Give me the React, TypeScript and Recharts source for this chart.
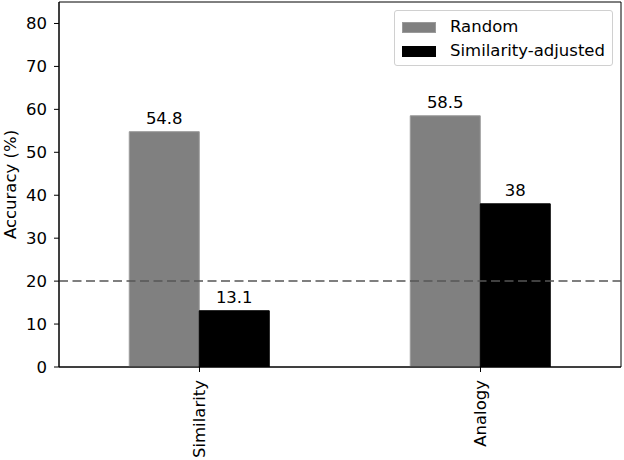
import { Bar, BarChart, LabelList, ReferenceArea, ReferenceLine, XAxis, YAxis } from 'recharts'

const categories = ['Similarity', 'Analogy']
const randomValues = [54.8, 58.5]
const adjustedValues = [13.1, 38]
const yTicks = [0, 10, 20, 30, 40, 50, 60, 70, 80]
const chanceLevel = 20

const data = categories.map((name, i) => ({
  name,
  random: randomValues[i],
  adjusted: adjustedValues[i],
}))

const font = '"DejaVu Sans", sans-serif'
const fs = 16.5

function RotatedTick(props: any) {
  const { x, y, payload } = props
  return (
    <text
      x={x}
      y={y}
      transform={`rotate(-90, ${x}, ${y})`}
      textAnchor="end"
      dy="0.35em"
      fontSize={fs}
      fontFamily={font}
      fill="#000"
    >
      {payload.value}
    </text>
  )
}

// legend drawn as an overlay so it takes no room from the plot
function LegendBox() {
  const items = [
    { label: 'Random', color: '#808080', stroke: '#9a9a9a' },
    { label: 'Similarity-adjusted', color: '#000', stroke: '#000' },
  ]
  return (
    <div
      style={{
        position: 'absolute',
        left: 394,
        top: 10,
        width: 219,
        height: 56,
        border: '1px solid #d0d0d0',
        borderRadius: 3,
        background: '#fff',
        boxSizing: 'border-box',
        padding: '4px 0 0 7px',
        fontFamily: font,
        fontSize: fs,
        color: '#000',
      }}
    >
      {items.map((it) => (
        <div key={it.label} style={{ display: 'flex', alignItems: 'center', height: 24, lineHeight: '24px' }}>
          <span
            style={{
              display: 'inline-block',
              width: 34,
              height: 11,
              background: it.color,
              border: `1px solid ${it.stroke}`,
              boxSizing: 'border-box',
              marginRight: 14,
            }}
          />
          <span>{it.label}</span>
        </div>
      ))}
    </div>
  )
}

export default function App() {
  return (
    <div style={{ position: 'absolute', left: 0, top: 0, width: 624, height: 460, background: '#fff' }}>
      <BarChart
        width={624}
        height={460}
        data={data}
        margin={{ top: 2, right: 3, bottom: 0, left: 0 }}
        barCategoryGap="25%"
        barGap={0}
      >
        <ReferenceArea y1={0} y2={85} fill="none" fillOpacity={0} stroke="#000" strokeWidth={1} />
        <XAxis
          dataKey="name"
          height={93}
          tick={<RotatedTick />}
          tickSize={5}
          tickMargin={8}
          axisLine={{ stroke: '#000' }}
          tickLine={{ stroke: '#000' }}
          interval={0}
        />
        <YAxis
          width={59}
          domain={[0, 85]}
          ticks={yTicks}
          allowDataOverflow
          tickSize={5}
          tickMargin={7}
          axisLine={{ stroke: '#000' }}
          tickLine={{ stroke: '#000' }}
          tick={{ fontSize: fs, fontFamily: font, fill: '#000' }}
          label={{
            value: 'Accuracy (%)',
            angle: -90,
            position: 'insideLeft',
            offset: 10,
            style: { textAnchor: 'middle', fontSize: fs, fontFamily: font, fill: '#000' },
          }}
        />
        <ReferenceLine y={chanceLevel} stroke="#555" strokeWidth={1.5} strokeDasharray="9 4.5" />
        <Bar dataKey="random" name="Random" fill="#808080" stroke="#9a9a9a" strokeWidth={1} isAnimationActive={false}>
          <LabelList dataKey="random" position="top" offset={8} fill="#000" fontSize={fs} fontFamily={font} />
        </Bar>
        <Bar dataKey="adjusted" name="Similarity-adjusted" fill="#000" stroke="#000" strokeWidth={1} isAnimationActive={false}>
          <LabelList dataKey="adjusted" position="top" offset={8} fill="#000" fontSize={fs} fontFamily={font} />
        </Bar>
      </BarChart>
      <LegendBox />
    </div>
  )
}
